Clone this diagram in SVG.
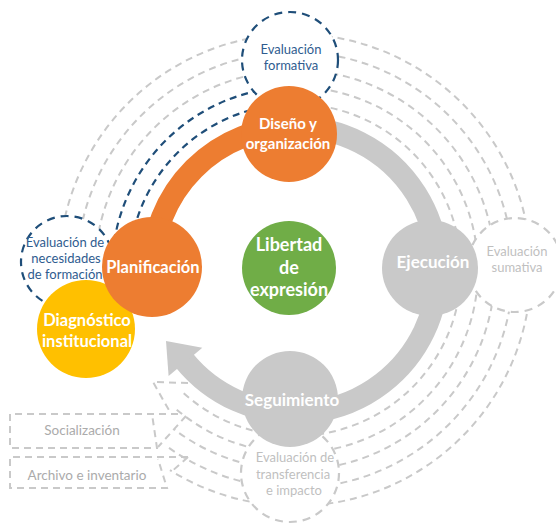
<svg xmlns="http://www.w3.org/2000/svg" width="556" height="524" viewBox="0 0 556 524">
<style>
.dg{fill:none;stroke:#C9C9C9;stroke-width:2;stroke-dasharray:7 5}
.dn{fill:none;stroke:#1F4E79;stroke-width:2.2;stroke-dasharray:7 5}
.ec{fill:#fff;stroke-width:2.2;stroke-dasharray:8 6}
.t{font-family:Lato,'Liberation Sans',sans-serif;text-anchor:middle}
.b{font-weight:bold;fill:#fff}
.nv{fill:#2F5C8F;font-size:13px}
.gy{fill:#BFBFBF;font-size:13px}
.bx{fill:#ABABAB;font-size:13.5px}
</style>
<rect width="556" height="524" fill="#fff"/>
<g id="connectors">
  <path class="dn" d="M131.52,241.17 A166,166 0 0 1 295,104"/>
  <path class="dn" d="M114.25,241.37 A183,183 0 0 1 295,87"/>
  <path class="dg" d="M295,104 A166,166 0 1 1 182.43,392"/>
  <path class="dg" d="M295,87 A183,183 0 1 1 173.74,407.06"/>
  <path class="dg" d="M98.67,231.84 A200,200 0 1 1 174.64,429.73"/>
  <path class="dg" d="M80.31,232.14 A218,218 0 1 1 168.41,447.48"/>
  <path class="dg" d="M62.58,229.02 A236,236 0 1 1 169.94,470.14"/>
  <path class="dg" d="M188,383 L153,382 L170,412"/>
  <path class="dg" d="M186,416 L158,447"/>
  <path class="dg" d="M188,457 L170,473"/>
  <path d="M152,270 A143,143 0 0 1 295,127" fill="none" stroke="#ED7D31" stroke-width="22"/>
  <path d="M295,127 A143,143 0 1 1 183.87,359.99" fill="none" stroke="#C9C9C9" stroke-width="22"/>
  <polygon points="202.31,347.78 166,341 168.6,376.06" fill="#C9C9C9"/>
</g>
<g id="eval-formativa">
  <circle class="ec" cx="290" cy="60" r="48" stroke="#1F4E79"/>
  <text class="t nv" x="291" y="54">Evaluación</text>
  <text class="t nv" x="291" y="70">formativa</text>
</g>
<g id="eval-necesidades">
  <circle class="ec" cx="67" cy="262" r="46" stroke="#1F4E79"/>
  <text class="t nv" x="65" y="247">Evaluación de</text>
  <text class="t nv" x="66" y="263">necesidades</text>
  <text class="t nv" x="65" y="279">de formación</text>
</g>
<g id="eval-sumativa">
  <circle class="ec" cx="515" cy="265" r="47" stroke="#C9C9C9"/>
  <text class="t gy" x="517" y="256">Evaluación</text>
  <text class="t gy" x="517" y="272">sumativa</text>
</g>
<g id="eval-transferencia">
  <circle class="ec" cx="290" cy="473" r="49" stroke="#C9C9C9"/>
  <text class="t gy" x="295" y="462">Evaluación de</text>
  <text class="t gy" x="293" y="479">transferencia</text>
  <text class="t gy" x="294" y="495">e impacto</text>
</g>
<g id="socializacion">
  <path class="dg" d="M178,414 H10 V448 H157 L152,414"/>
  <text class="t bx" x="82" y="435">Socialización</text>
</g>
<g id="archivo">
  <path class="dg" d="M188,457 H10 V488 H167 L158,459"/>
  <text class="t bx" x="87" y="480">Archivo e inventario</text>
</g>
<g id="diseno">
  <circle cx="289" cy="134" r="48" fill="#ED7D31"/>
  <text class="t b" x="288" y="129" font-size="15">Diseño y</text>
  <text class="t b" x="288" y="149" font-size="15">organización</text>
</g>
<g id="diagnostico">
  <circle cx="86" cy="329" r="49" fill="#FFC000"/>
  <text class="t b" x="87" y="326" font-size="16.5">Diagnóstico</text>
  <text class="t b" x="87" y="347" font-size="16.5">institucional</text>
</g>
<g id="planificacion">
  <circle cx="152" cy="267" r="50" fill="#ED7D31"/>
  <text class="t b" x="153" y="273" font-size="16.5">Planificación</text>
</g>
<g id="ejecucion">
  <circle cx="430" cy="268" r="48" fill="#C9C9C9"/>
  <text class="t b" x="433" y="268" font-size="17">Ejecución</text>
</g>
<g id="seguimiento">
  <circle cx="290" cy="399" r="48" fill="#C9C9C9"/>
  <text class="t b" x="292" y="406" font-size="17">Seguimiento</text>
</g>
<g id="libertad">
  <circle cx="289" cy="268" r="47" fill="#70AD47"/>
  <text class="t b" x="289" y="251" font-size="18">Libertad</text>
  <text class="t b" x="289" y="274" font-size="18">de</text>
  <text class="t b" x="289" y="296" font-size="18">expresión</text>
</g>
</svg>
